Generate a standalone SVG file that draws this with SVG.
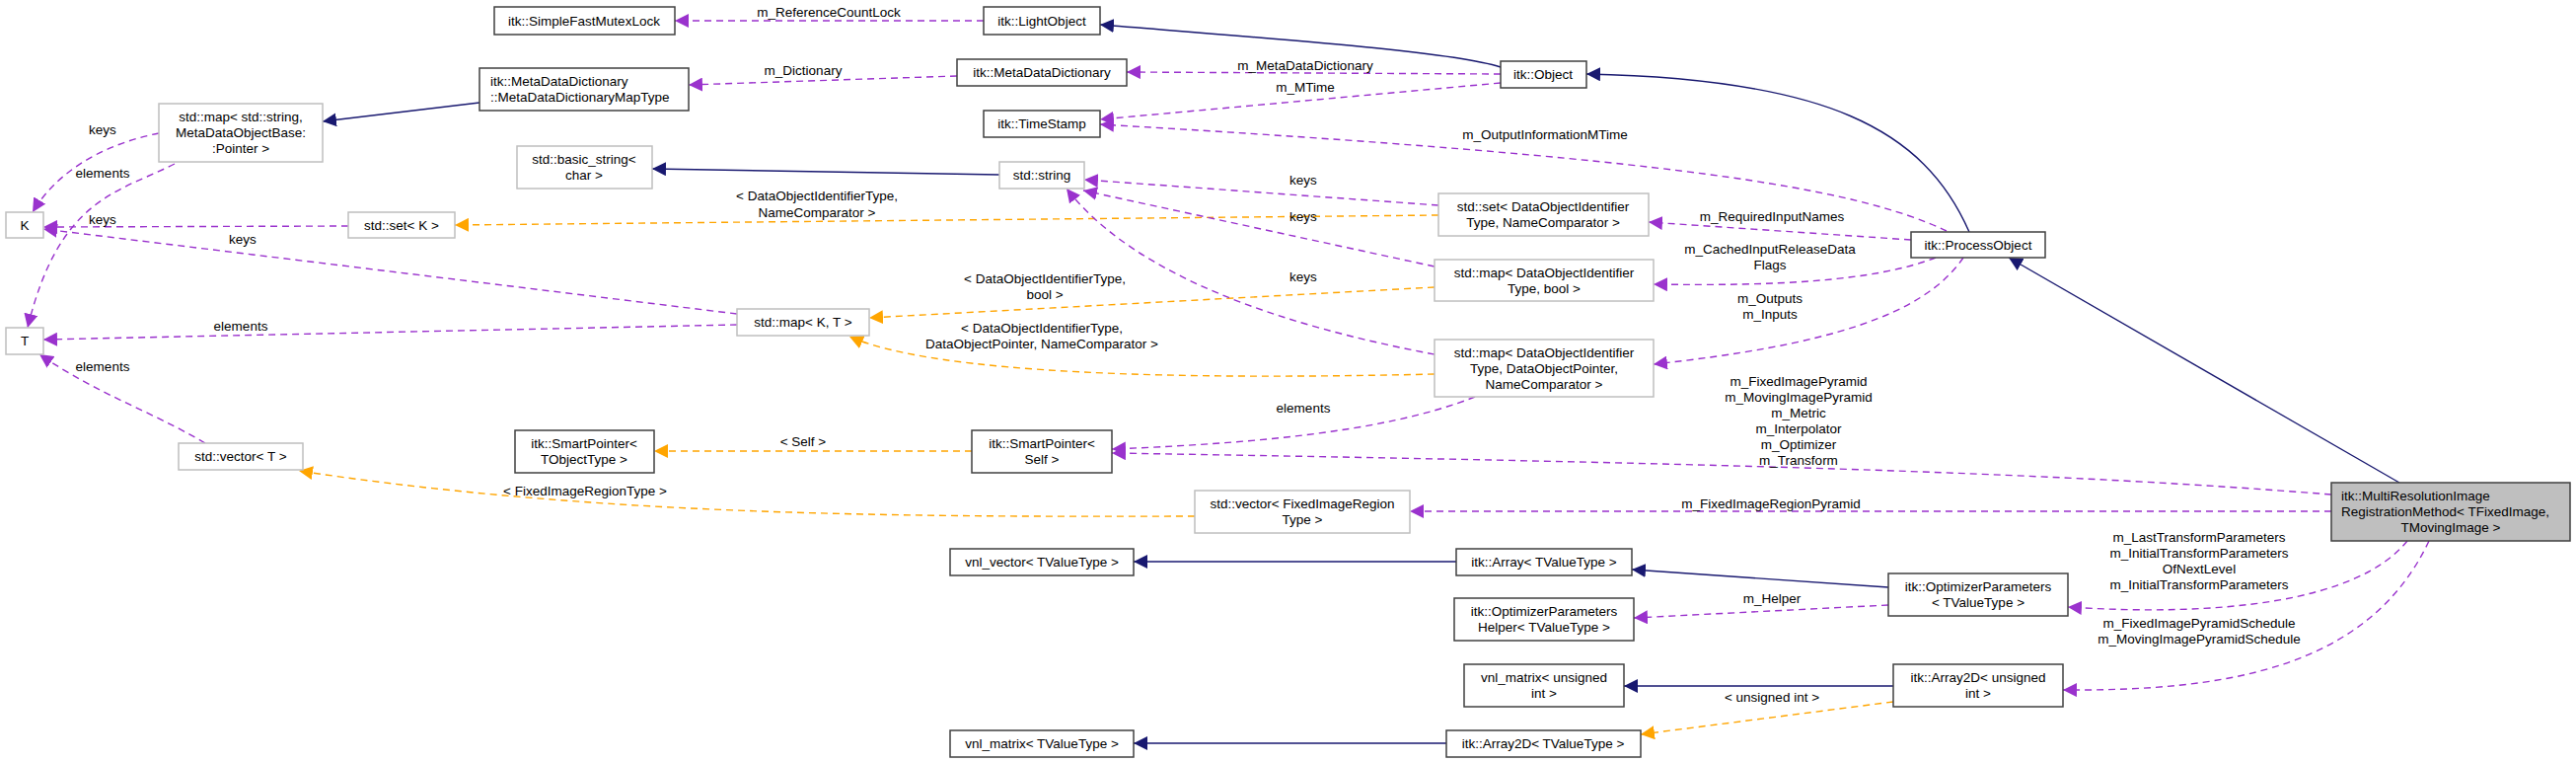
<svg xmlns="http://www.w3.org/2000/svg" width="2611" height="772" viewBox="0 0 2611 772">
<style>
text{font-family:"Liberation Sans",Arial,sans-serif;font-size:13.5px;fill:#000}
.m text{text-anchor:middle}
.b{fill:#fff;stroke:#404040;stroke-width:1.5}
.g{fill:#fff;stroke:#bfbfbf;stroke-width:1.5}
.e{fill:none;stroke-width:1.4}
.p{stroke:#9a32cd;stroke-dasharray:7,5;marker-end:url(#ap)}
.o{stroke:#ffa500;stroke-dasharray:7,5;marker-end:url(#ao)}
.n{stroke:#191970;marker-end:url(#an)}
.lbl text{text-anchor:middle}
</style>
<defs>
<marker id="ap" viewBox="0 0 10 10" refX="10" refY="5" markerWidth="14" markerHeight="14" markerUnits="userSpaceOnUse" orient="auto"><path d="M0,0L10,5L0,10z" fill="#9a32cd"/></marker>
<marker id="ao" viewBox="0 0 10 10" refX="10" refY="5" markerWidth="14" markerHeight="14" markerUnits="userSpaceOnUse" orient="auto"><path d="M0,0L10,5L0,10z" fill="#ffa500"/></marker>
<marker id="an" viewBox="0 0 10 10" refX="10" refY="5" markerWidth="14" markerHeight="14" markerUnits="userSpaceOnUse" orient="auto"><path d="M0,0L10,5L0,10z" fill="#191970"/></marker>
</defs>
<rect width="2611" height="772" fill="#fff"/>
<g id="edges">
<path class="e p" d="M997,21L684,21"/>
<path class="e n" d="M1521,68C1470,52 1300,40 1115,25"/>
<path class="e p" d="M1521,75L1142,73"/>
<path class="e p" d="M970,77L698,86"/>
<path class="e n" d="M486,104L327,123"/>
<path class="e p" d="M1521,84L1115,121"/>
<path class="e p" d="M1973,234C1880,190 1700,160 1115,126"/>
<path class="e n" d="M1996,235C1950,130 1850,80 1608,75"/>
<path class="e p" d="M1937,243L1671,225"/>
<path class="e p" d="M1962,261C1900,285 1800,290 1676,288"/>
<path class="e p" d="M1990,261C1950,320 1850,350 1676,369"/>
<path class="e p" d="M1458,208L1099,182"/>
<path class="e o" d="M1458,218L461,228"/>
<path class="e p" d="M1454,270L1098,193"/>
<path class="e o" d="M1454,291L881,322"/>
<path class="e p" d="M1454,359C1300,330 1150,280 1081,191"/>
<path class="e o" d="M1454,379C1200,385 950,380 861,341"/>
<path class="e p" d="M1495,402C1400,440 1250,450 1127,455"/>
<path class="e p" d="M2363,501C2100,480 1800,470 1127,459"/>
<path class="e o" d="M985,457L663,457"/>
<path class="e p" d="M2363,518L1429,518"/>
<path class="e o" d="M1211,523C900,524 600,522 303,477"/>
<path class="e p" d="M208,449C150,415 100,400 40,359"/>
<path class="e p" d="M747,329L44,344"/>
<path class="e p" d="M747,318L44,232"/>
<path class="e p" d="M353,229L44,230"/>
<path class="e p" d="M161,135C110,145 60,170 33,215"/>
<path class="e p" d="M177,166C120,195 60,200 28,332"/>
<path class="e n" d="M1013,177L661,171"/>
<path class="e n" d="M1476,569L1149,569"/>
<path class="e n" d="M1914,595L1654,577"/>
<path class="e p" d="M1914,613L1656,626"/>
<path class="e p" d="M2440,548C2390,610 2250,625 2096,615"/>
<path class="e p" d="M2462,548C2400,680 2250,700 2091,699"/>
<path class="e n" d="M1919,695L1646,695"/>
<path class="e o" d="M1919,711L1663,744"/>
<path class="e n" d="M1466,753L1149,753"/>
<path class="e n" d="M2432,489L2036,261"/>
<g class="lbl">
<text x="840" y="17">m_ReferenceCountLock</text>
<text x="1323" y="71">m_MetaDataDictionary</text>
<text x="814" y="76">m_Dictionary</text>
<text x="1323" y="93">m_MTime</text>
<text x="1566" y="141">m_OutputInformationMTime</text>
<text x="1796" y="224">m_RequiredInputNames</text>
<text x="1794" y="257">m_CachedInputReleaseData</text>
<text x="1794" y="273">Flags</text>
<text x="1794" y="307">m_Outputs</text>
<text x="1794" y="323">m_Inputs</text>
<text x="1321" y="187">keys</text>
<text x="1321" y="224">keys</text>
<text x="1321" y="285">keys</text>
<text x="828" y="203">&lt; DataObjectIdentifierType,</text>
<text x="828" y="220">NameComparator &gt;</text>
<text x="1059" y="287">&lt; DataObjectIdentifierType,</text>
<text x="1059" y="303">bool &gt;</text>
<text x="1056" y="337">&lt; DataObjectIdentifierType,</text>
<text x="1056" y="353">DataObjectPointer, NameComparator &gt;</text>
<text x="1321" y="418">elements</text>
<text x="1823" y="391">m_FixedImagePyramid</text>
<text x="1823" y="407">m_MovingImagePyramid</text>
<text x="1823" y="423">m_Metric</text>
<text x="1823" y="439">m_Interpolator</text>
<text x="1823" y="455">m_Optimizer</text>
<text x="1823" y="471">m_Transform</text>
<text x="814" y="452">&lt; Self &gt;</text>
<text x="1795" y="515">m_FixedImageRegionPyramid</text>
<text x="593" y="502">&lt; FixedImageRegionType &gt;</text>
<text x="104" y="376">elements</text>
<text x="244" y="335">elements</text>
<text x="246" y="247">keys</text>
<text x="104" y="227">keys</text>
<text x="104" y="136">keys</text>
<text x="104" y="180">elements</text>
<text x="1796" y="611">m_Helper</text>
<text x="2229" y="549">m_LastTransformParameters</text>
<text x="2229" y="565">m_InitialTransformParameters</text>
<text x="2229" y="581">OfNextLevel</text>
<text x="2229" y="597">m_InitialTransformParameters</text>
<text x="2229" y="636">m_FixedImagePyramidSchedule</text>
<text x="2229" y="652">m_MovingImagePyramidSchedule</text>
<text x="1796" y="711">&lt; unsigned int &gt;</text>
</g>
</g>
<g id="n_sfml" class="m"><rect class="b" x="501" y="7" width="183" height="28"/><text x="592" y="26">itk::SimpleFastMutexLock</text></g>
<g id="n_light" class="m"><rect class="b" x="997" y="7" width="118" height="28"/><text x="1056" y="26">itk::LightObject</text></g>
<g id="n_mdd" class="m"><rect class="b" x="970" y="60" width="172" height="27"/><text x="1056" y="78">itk::MetaDataDictionary</text></g>
<g id="n_object" class="m"><rect class="b" x="1521" y="62" width="87" height="27"/><text x="1564" y="80">itk::Object</text></g>
<g id="n_ts" class="m"><rect class="b" x="997" y="112" width="118" height="27"/><text x="1056" y="130">itk::TimeStamp</text></g>
<g id="n_maptype"><rect class="b" x="486" y="69" width="212" height="43"/><text x="497" y="87">itk::MetaDataDictionary</text><text x="497" y="103">::MetaDataDictionaryMapType</text></g>
<g id="n_mapstr" class="m"><rect class="g" x="161" y="105" width="166" height="59"/><text x="244" y="123">std::map&lt; std::string,</text><text x="244" y="139">MetaDataObjectBase:</text><text x="244" y="155">:Pointer &gt;</text></g>
<g id="n_basic" class="m"><rect class="g" x="524" y="148" width="137" height="43"/><text x="592" y="166">std::basic_string&lt;</text><text x="592" y="182">char &gt;</text></g>
<g id="n_K" class="m"><rect class="g" x="6" y="215" width="38" height="26"/><text x="25" y="233">K</text></g>
<g id="n_setK" class="m"><rect class="g" x="353" y="215" width="108" height="26"/><text x="407" y="233">std::set&lt; K &gt;</text></g>
<g id="n_T" class="m"><rect class="g" x="6" y="332" width="38" height="27"/><text x="25" y="350">T</text></g>
<g id="n_mapKT" class="m"><rect class="g" x="747" y="313" width="134" height="27"/><text x="814" y="331">std::map&lt; K, T &gt;</text></g>
<g id="n_string" class="m"><rect class="g" x="1013" y="164" width="86" height="27"/><text x="1056" y="182">std::string</text></g>
<g id="n_setD" class="m"><rect class="g" x="1458" y="196" width="213" height="43"/><text x="1564" y="214">std::set&lt; DataObjectIdentifier</text><text x="1564" y="230">Type, NameComparator &gt;</text></g>
<g id="n_mapB" class="m"><rect class="g" x="1454" y="263" width="222" height="42"/><text x="1565" y="281">std::map&lt; DataObjectIdentifier</text><text x="1565" y="297">Type, bool &gt;</text></g>
<g id="n_mapD" class="m"><rect class="g" x="1454" y="344" width="222" height="58"/><text x="1565" y="362">std::map&lt; DataObjectIdentifier</text><text x="1565" y="378">Type, DataObjectPointer,</text><text x="1565" y="394">NameComparator &gt;</text></g>
<g id="n_po" class="m"><rect class="b" x="1937" y="235" width="136" height="26"/><text x="2005" y="253">itk::ProcessObject</text></g>
<g id="n_vecT" class="m"><rect class="g" x="181" y="449" width="126" height="27"/><text x="244" y="467">std::vector&lt; T &gt;</text></g>
<g id="n_spT" class="m"><rect class="b" x="522" y="436" width="141" height="43"/><text x="592" y="454">itk::SmartPointer&lt;</text><text x="592" y="470">TObjectType &gt;</text></g>
<g id="n_spS" class="m"><rect class="b" x="985" y="436" width="142" height="43"/><text x="1056" y="454">itk::SmartPointer&lt;</text><text x="1056" y="470">Self &gt;</text></g>
<g id="n_vecF" class="m"><rect class="g" x="1211" y="497" width="218" height="43"/><text x="1320" y="515">std::vector&lt; FixedImageRegion</text><text x="1320" y="531">Type &gt;</text></g>
<g id="n_vnlv" class="m"><rect class="b" x="963" y="556" width="186" height="27"/><text x="1056" y="574">vnl_vector&lt; TValueType &gt;</text></g>
<g id="n_arr" class="m"><rect class="b" x="1476" y="556" width="178" height="27"/><text x="1565" y="574">itk::Array&lt; TValueType &gt;</text></g>
<g id="n_helper" class="m"><rect class="b" x="1474" y="606" width="182" height="43"/><text x="1565" y="624">itk::OptimizerParameters</text><text x="1565" y="640">Helper&lt; TValueType &gt;</text></g>
<g id="n_vnlmu" class="m"><rect class="b" x="1484" y="673" width="162" height="43"/><text x="1565" y="691">vnl_matrix&lt; unsigned</text><text x="1565" y="707">int &gt;</text></g>
<g id="n_vnlm" class="m"><rect class="b" x="963" y="740" width="186" height="27"/><text x="1056" y="758">vnl_matrix&lt; TValueType &gt;</text></g>
<g id="n_a2dT" class="m"><rect class="b" x="1466" y="740" width="197" height="27"/><text x="1564" y="758">itk::Array2D&lt; TValueType &gt;</text></g>
<g id="n_mr"><rect x="2363" y="489" width="242" height="59" fill="#bfbfbf" stroke="#404040" stroke-width="1.5"/><text x="2373" y="507">itk::MultiResolutionImage</text><text x="2373" y="523">RegistrationMethod&lt; TFixedImage,</text><text x="2484" y="539" text-anchor="middle">TMovingImage &gt;</text></g>
<g id="n_op" class="m"><rect class="b" x="1914" y="581" width="182" height="43"/><text x="2005" y="599">itk::OptimizerParameters</text><text x="2005" y="615">&lt; TValueType &gt;</text></g>
<g id="n_a2du" class="m"><rect class="b" x="1919" y="673" width="172" height="43"/><text x="2005" y="707">int &gt;</text><text x="2005" y="691">itk::Array2D&lt; unsigned</text></g>
</svg>
